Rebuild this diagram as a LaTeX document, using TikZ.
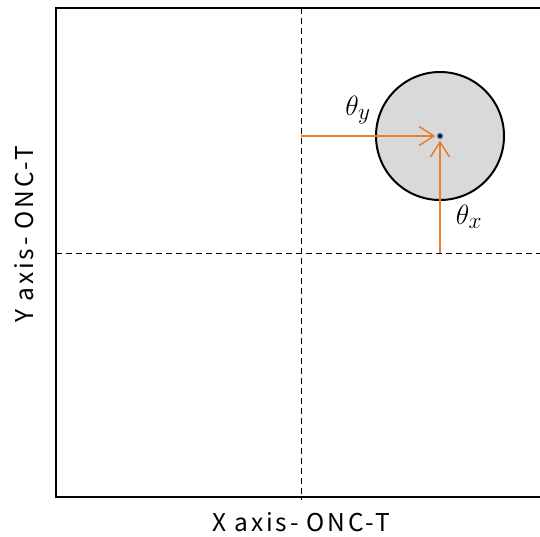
\documentclass[tikz,border=0pt]{standalone}
\usepackage{fontspec}
\newfontfamily\axisfont[LetterSpace=11]{Noto Sans CJK JP}
\usetikzlibrary{arrows.meta,positioning}
\definecolor{arroworange}{RGB}{237,125,49}
\definecolor{spotgray}{RGB}{217,217,217}
\definecolor{dotblue}{RGB}{68,114,196}

\begin{document}
\begin{tikzpicture}[
    x=1pt, y=-1pt,
    frame/.style={line width=2pt},
    guide/.style={dashed, line width=0.9pt, dash pattern=on 6pt off 4pt},
    spot/.style={circle, draw, line width=2pt, fill=spotgray, minimum size=128pt, inner sep=0pt},
    centre/.style={circle, fill=black, draw=dotblue, line width=1.2pt, minimum size=5pt, inner sep=0pt},
    offset/.style={arroworange, line width=1.5pt, -{Straight Barb[length=15pt, width=19pt, line width=1.5pt]}, shorten >=1.5pt},
    axislabel/.style={font=\axisfont\fontsize{24.5}{28}\selectfont},
    anglelabel/.style={font=\Huge, scale=1.12}
  ]
    \useasboundingbox (0,0) rectangle (540,536);

    % plot frame (open at the right)
    \draw[frame] (540,8) -- (56,8) -- (56,497) -- (540,497);

    % dashed guide lines through the origin
    \coordinate (gtop) at (301,8);
    \coordinate (gbot) at (301,500);
    \coordinate (gleft) at (56,253);
    \coordinate (gright) at (540,253);
    \draw[guide] (gtop) -- (gbot);
    \draw[guide] (gleft) -- (gright);

    % spot and its centre
    \node[spot] (spot) at (440,136) {};
    \node[centre] (ctr) at (440,136) {};

    % offsets
    \coordinate (ystart) at (301,136);
    \coordinate (xstart) at (440,253);
    \draw[offset] (ystart) -- (ctr);
    \draw[offset] (xstart) -- (ctr);

    \node[anglelabel] (thy) at (358,110) {$\theta_y$};
    \node[anglelabel] (thx) at (469,217) {$\theta_x$};

    % axis titles
    \node[axislabel] (xlab) at (301.5,522) {X axis- ONC-T};
    \node[axislabel, rotate=90] (ylab) at (24,234) {Y axis- ONC-T};
  \end{tikzpicture}
\end{document}
